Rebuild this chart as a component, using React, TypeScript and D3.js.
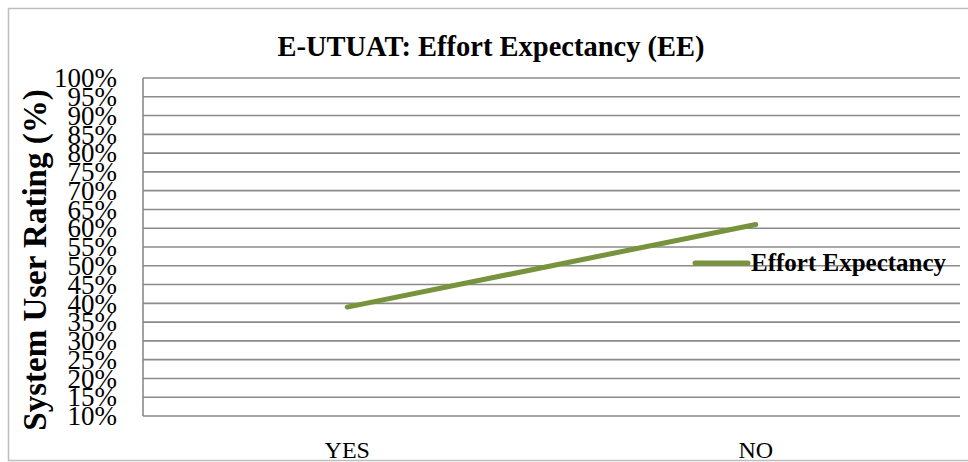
import React from 'react';
import * as d3 from 'd3';

const categories = ['YES', 'NO'];
const seriesName = 'Effort Expectancy';
const seriesValues = [0.39, 0.61];
const yTicks = [0.1, 0.15, 0.2, 0.25, 0.3, 0.35, 0.4, 0.45, 0.5, 0.55, 0.6, 0.65, 0.7, 0.75, 0.8, 0.85, 0.9, 0.95, 1.0];
const chartTitle = 'E-UTUAT: Effort Expectancy (EE)';
const yTitle = 'System User Rating (%)';

const App = () => {
  const width = 968;
  const height = 462;
  const font = '"Liberation Serif", "Times New Roman", serif';
  const lineColor = '#77933c';
  const gridColor = '#8a8a8a';

  const plot = { left: 143, right: 960, top: 78, bottom: 416 };

  // scales
  const x = d3.scaleBand()
    .domain(categories)
    .range([plot.left, plot.right]);

  const y = d3.scaleLinear()
    .domain([0.1, 1.0])
    .range([plot.bottom, plot.top]);

  const line = d3.line<number>()
    .x((d, i) => x(categories[i])! + x.bandwidth() / 2)
    .y(d => y(d));

  const fmt = d3.format('.0%');

  const grid = yTicks.map((t, i) => (
    <line key={i} x1={plot.left} x2={plot.right} y1={y(t)} y2={y(t)}
          stroke={gridColor} strokeWidth={1.6} />
  ));

  const tickLabels = yTicks.map((t, i) => (
    <text key={i} x={117} y={y(t)} dy="0.34em" textAnchor="end"
          fontSize={27} fontFamily={font} fill="#000">{fmt(t)}</text>
  ));

  const xLabels = categories.map((c, i) => (
    <text key={i} x={x(c)! + x.bandwidth() / 2} y={458} textAnchor="middle"
          fontSize={24} fontFamily={font} fill="#000">{c}</text>
  ));

  return (
    <svg width={width} height={height}
         style={{ position: 'absolute', left: 0, top: 0, background: '#fff' }}>
      <rect x={8.5} y={8.5} width={980} height={452} fill="#fff" stroke="#bdbdbd" strokeWidth={1.5} />

      <text x={491} y={56} textAnchor="middle" fontSize={28.5} fontWeight="bold"
            fontFamily={font} fill="#000">{chartTitle}</text>

      {grid}
      <line x1={plot.left} x2={plot.left} y1={plot.top} y2={plot.bottom}
            stroke={gridColor} strokeWidth={1.6} />

      {tickLabels}

      <text transform={`translate(46,${(88 + 432) / 2}) rotate(-90)`} textAnchor="middle"
            fontSize={33} fontWeight="bold" fontFamily={font} fill="#000">{yTitle}</text>

      <path d={line(seriesValues) || ''} fill="none" stroke={lineColor}
            strokeWidth={5} strokeLinecap="round" />

      {xLabels}

      {/* legend */}
      <line x1={695} x2={748} y1={263} y2={263} stroke={lineColor} strokeWidth={5} strokeLinecap="round" />
      <text x={751} y={271} fontSize={25} fontWeight="bold" fontFamily={font} fill="#000">{seriesName}</text>
    </svg>
  );
};

export default App;
